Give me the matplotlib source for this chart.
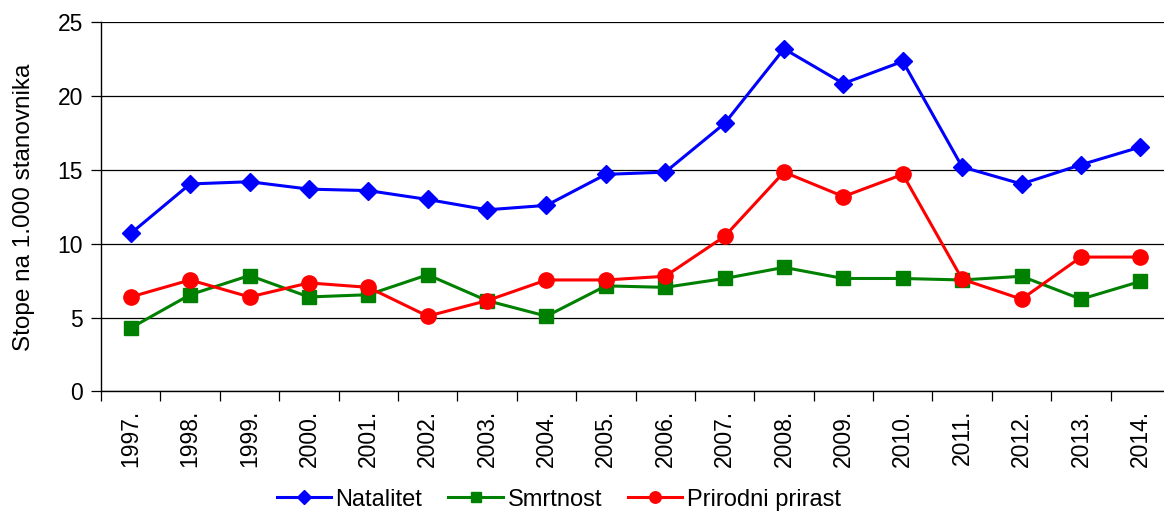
import numpy as np
import matplotlib
matplotlib.use("Agg")
from matplotlib import pyplot as plt
from matplotlib.ticker import FixedLocator

plt.rcParams['font.family'] = ['Liberation Sans', 'DejaVu Sans']

godine = ['1997.', '1998.', '1999.', '2000.', '2001.', '2002.', '2003.', '2004.', '2005.',
          '2006.', '2007.', '2008.', '2009.', '2010.', '2011.', '2012.', '2013.', '2014.']
natalitet = [10.7, 14.05, 14.2, 13.7, 13.6, 13.0, 12.3, 12.6, 14.7,
             14.85, 18.15, 23.2, 20.85, 22.35, 15.2, 14.05, 15.35, 16.55]
smrtnost = [4.3, 6.55, 7.85, 6.4, 6.55, 7.9, 6.15, 5.1, 7.15,
            7.05, 7.65, 8.4, 7.65, 7.65, 7.55, 7.8, 6.25, 7.45]
prirast = [6.4, 7.55, 6.4, 7.35, 7.05, 5.1, 6.15, 7.55, 7.55,
           7.8, 10.5, 14.85, 13.2, 14.7, 7.6, 6.25, 9.1, 9.1]

fig = plt.figure(figsize=(11.64, 5.12), dpi=100)
ax = fig.add_axes([0.0868, 0.2354, 0.9184, 0.7212])

x = np.arange(len(godine))
ax.plot(x, natalitet, color='#0000FF', lw=2.2, marker='D', ms=9, mec='#0000FF', label='Natalitet', zorder=3)
ax.plot(x, smrtnost, color='#008000', lw=2.2, marker='s', ms=10.5, mec='#008000', label='Smrtnost', zorder=3)
ax.plot(x, prirast, color='#FF0000', lw=2.2, marker='o', ms=11, mec='#FF0000', label='Prirodni prirast', zorder=4)

ax.set_xlim(-0.5, 17.5)
ax.set_ylim(0, 25)
ax.set_yticks([0, 5, 10, 15, 20, 25])
ax.yaxis.grid(True, color='black', lw=0.9)
ax.set_axisbelow(True)

ax.set_xticks(x)
ax.set_xticklabels(godine, rotation=90, fontsize=16.5)
ax.tick_params(axis='x', which='major', length=0, pad=13)
ax.xaxis.set_minor_locator(FixedLocator(np.arange(-0.5, 18, 1)))
ax.tick_params(axis='x', which='minor', length=7, width=0.9, direction='out')
ax.tick_params(axis='y', labelsize=16.5, length=7, width=0.9, pad=6)

for s in ['top', 'right']:
    ax.spines[s].set_visible(False)
ax.spines['left'].set_linewidth(1.0)
ax.spines['bottom'].set_linewidth(1.0)

ax.set_ylabel('Stope na 1.000 stanovnika', fontsize=17.5, labelpad=16)

fig.legend(loc='center', bbox_to_anchor=(0.48, 0.024), ncol=3, frameon=False,
           fontsize=17, handlelength=2.3, handletextpad=0.2, columnspacing=1.1,
           markerscale=0.75)

fig.savefig('out.png', dpi=100)
